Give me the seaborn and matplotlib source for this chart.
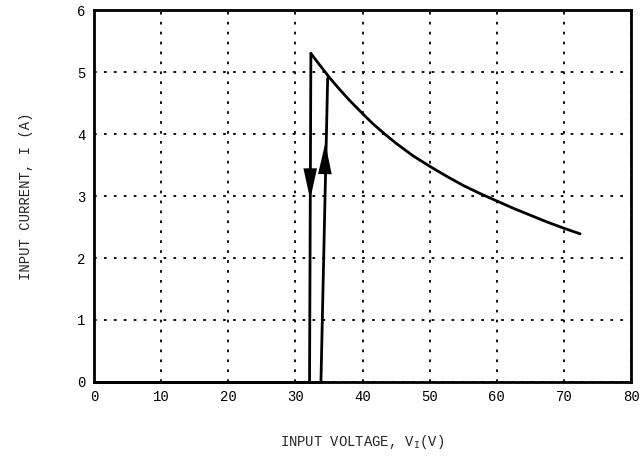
import pandas as pd
import matplotlib
matplotlib.use("Agg")
import matplotlib.pyplot as plt
import seaborn as sns

# curve values
off_v = [0.0, 33.8]
off_i = [0.0, 0.0]

rise_v = [33.8, 34.8]
rise_i = [0.0, 4.9]

fall_v = [32.3, 32.1]
fall_i = [5.3, 0.0]

curve_v = [32.3, 33.5, 35.0, 36.5, 38.0, 40.0, 41.5, 43.3, 45.0, 47.5, 50.0,
           52.5, 55.0, 57.5, 60.0, 62.5, 65.0, 67.5, 70.0, 72.4]
curve_i = [5.30, 5.13, 4.92, 4.73, 4.55, 4.33, 4.17, 4.00, 3.85, 3.65, 3.48,
           3.32, 3.17, 3.04, 2.92, 2.80, 2.69, 2.58, 2.48, 2.39]

# arrow heads (tip, tail) along the two vertical lines
arrow_down = [(32.2, 2.9), (32.2, 3.35)]
arrow_up = [(34.45, 3.9), (34.4, 3.45)]

x_ticks = [0, 10, 20, 30, 40, 50, 60, 70, 80]
y_ticks = [0, 1, 2, 3, 4, 5, 6]

sns.set_theme(style="white")
plt.rcParams['font.family'] = ['Liberation Mono', 'DejaVu Sans Mono']

fig = plt.figure(figsize=(6.44, 4.58), dpi=100)
ax = fig.add_axes([0.146, 0.166, 0.834, 0.812])

for xs, ys in [(off_v, off_i), (rise_v, rise_i), (fall_v, fall_i), (curve_v, curve_i)]:
    df = pd.DataFrame({'v': xs, 'i': ys})
    sns.lineplot(data=df, x='v', y='i', sort=False, color='black', linewidth=2,
                 ax=ax, clip_on=False, zorder=5, solid_joinstyle='round')

for tip, tail in [arrow_down, arrow_up]:
    ax.annotate('', xy=tip, xytext=tail,
                arrowprops=dict(arrowstyle='-|>,head_length=1.6,head_width=0.35',
                                color='black', lw=0, mutation_scale=14))

ax.set_xlim(0, 80)
ax.set_ylim(0, 6)
ax.set_xticks(x_ticks)
ax.set_yticks(y_ticks)
ax.tick_params(axis='both', labelsize=10, colors='black', length=0, pad=6)
ax.grid(True, color='black', linestyle=(0, (1.5, 4)), linewidth=1.3)
for s in ax.spines.values():
    s.set_color('black')
    s.set_linewidth(2)

ax.set_xlabel('INPUT VOLTAGE, V$_{\\mathregular{I}}$(V)', fontsize=10, labelpad=21)
ax.set_ylabel('INPUT CURRENT, I (A)', fontsize=10, labelpad=32)

fig.savefig('out.png', dpi=100)
